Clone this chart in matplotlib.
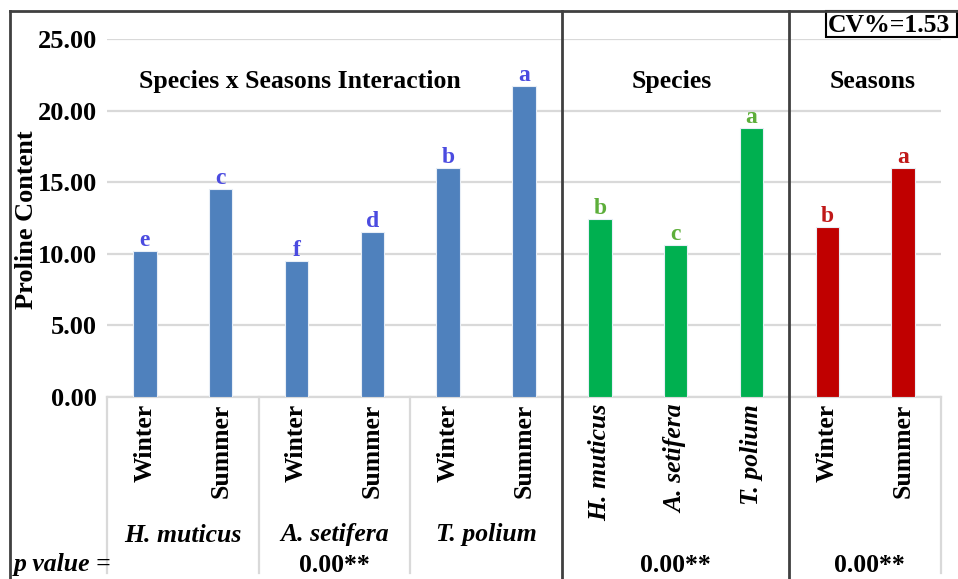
import matplotlib
matplotlib.use("Agg")
import matplotlib.pyplot as plt
import matplotlib.transforms as mtransforms
from matplotlib.lines import Line2D
from matplotlib.patches import Rectangle

# data
tick_labels = ["Winter", "Summer", "Winter", "Summer", "Winter", "Summer",
               "H. muticus", "A. setifera", "T. polium", "Winter", "Summer"]
proline = [10.22, 14.55, 9.52, 11.55, 15.97, 21.70,
           12.46, 10.64, 18.79,
           11.90, 15.99]
letters = ["e", "c", "f", "d", "b", "a", "b", "c", "a", "b", "a"]
species = ["H. muticus", "A. setifera", "T. polium"]
panel_titles = ["Species x Seasons Interaction", "Species", "Seasons"]
p_values = ["0.00**", "0.00**", "0.00**"]
cv_text = "CV%=1.53"

W, H = 958, 579
plt.rcParams["font.family"] = ["Liberation Serif", "DejaVu Serif"]
plt.rcParams["font.weight"] = "bold"


def fx(px):
    return px / W


def fy(py):
    return 1 - py / H


fig = plt.figure(figsize=(W / 100, H / 100), dpi=100)
ax = fig.add_axes([fx(107), fy(397), (941 - 107) / W, (397 - 39) / H])

bar_colors = ["#4F81BD"] * 6 + ["#00B050"] * 3 + ["#C00000"] * 2
letter_colors = ["#4B4BE0"] * 6 + ["#5DAE3A"] * 3 + ["#C01818"] * 2
x = list(range(len(proline)))
ax.bar(x, proline, width=0.31, color=bar_colors, edgecolor="#E8EEF6",
       linewidth=0.8, zorder=3)
for xi, v, lt, c in zip(x, proline, letters, letter_colors):
    ax.annotate(lt, (xi, v), xytext=(0, 0), textcoords="offset points",
                ha="center", va="bottom", fontsize=17, color=c)

ax.set_xlim(-0.5, 10.5)
ax.set_ylim(0, 25)
ax.set_yticks(range(0, 26, 5))
ax.set_yticklabels(["%.2f" % t for t in range(0, 26, 5)], fontsize=19)
ax.tick_params(axis="y", length=0, pad=7)
ax.set_xticks([])
ax.yaxis.grid(True, color="#D9D9D9", linewidth=1.6)
ax.set_axisbelow(True)
for s in ["left", "right", "top"]:
    ax.spines[s].set_visible(False)
ax.spines["bottom"].set_color("#D9D9D9")
ax.spines["bottom"].set_linewidth(1.6)

# panel titles
for xt, t in zip([2.05, 6.95, 9.6], panel_titles):
    ax.text(xt, 22.0, t, ha="center", va="center", fontsize=18.5)

trans = mtransforms.blended_transform_factory(ax.transData, fig.transFigure)

# category labels
for xi, lab in enumerate(tick_labels):
    style = "italic" if lab in species else "normal"
    ax.text(xi, fy(404), lab, transform=trans, rotation=90, ha="center",
            va="top", fontsize=18.5, style=style)
for xi, sp in zip([0.5, 2.5, 4.5], species):
    ax.text(xi, fy(535), sp, transform=trans, ha="center", va="center",
            fontsize=18.5, style="italic")
for xi, pv in zip([2.5, 7.0, 9.55], p_values):
    ax.text(xi, fy(565), pv, transform=trans, ha="center", va="center",
            fontsize=18.5)
fig.text(fx(14), fy(565), "p value =", ha="left", va="center",
         fontsize=18.5, style="italic")

# separators
for xs in [-0.5, 1.5, 3.5, 10.5]:
    ax.plot([xs, xs], [fy(397), fy(573)], transform=trans, color="#D9D9D9",
            linewidth=1.6, clip_on=False)
for xs in [5.5, 8.5]:
    ax.plot([xs, xs], [fy(11), 0], transform=trans, color="#404040",
            linewidth=2, clip_on=False, zorder=5)

# outer frame
fig.add_artist(Line2D([fx(10), fx(10)], [fy(11), 0], color="#404040", linewidth=2))
fig.add_artist(Line2D([fx(10), 1], [fy(11), fy(11)], color="#404040", linewidth=2))

# CV box
fig.add_artist(Rectangle((fx(826), fy(37)), fx(957) - fx(826), fy(11) - fy(37),
                         transform=fig.transFigure, fill=False,
                         edgecolor="black", linewidth=1.5))
fig.text(fx(828), fy(25), cv_text, ha="left", va="center", fontsize=18.5)

fig.text(fx(27), fy(220), "Proline Content", rotation=90, ha="center",
         va="center", fontsize=19)

fig.savefig("out.png", dpi=100)
